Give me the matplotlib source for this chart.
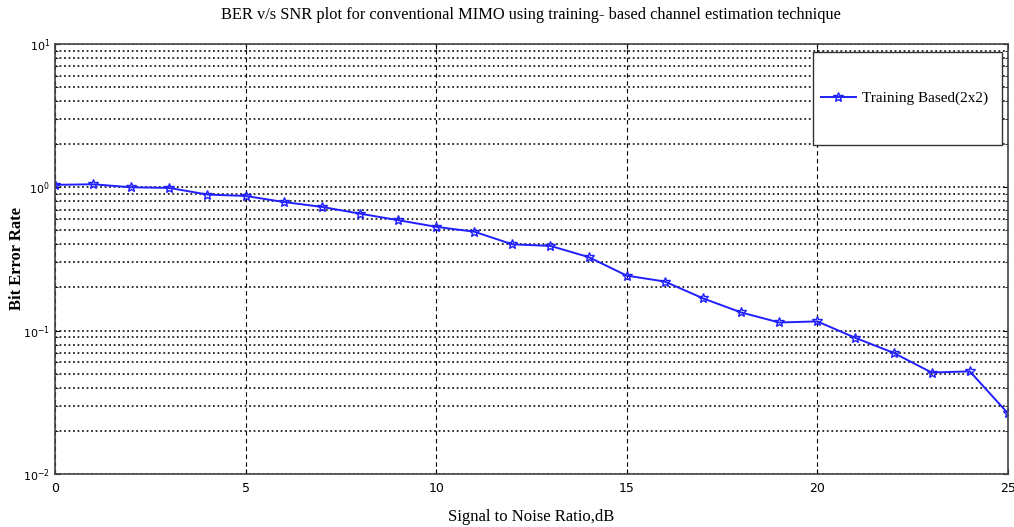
import numpy as np
import matplotlib
matplotlib.use('Agg')
import matplotlib.pyplot as plt
from matplotlib.patches import Rectangle
from matplotlib.ticker import LogLocator, NullFormatter

# SNR points (dB) and BER
snr_db = list(range(0, 26))
ber = [1.04, 1.05, 1.0, 0.99, 0.89, 0.87, 0.79, 0.73, 0.655, 0.59,
       0.53, 0.49, 0.40, 0.39, 0.326, 0.242, 0.22, 0.168, 0.134, 0.114,
       0.116, 0.089, 0.070, 0.051, 0.052, 0.0265]

series_label = 'Training Based(2x2)'
title_text = 'BER v/s SNR plot for conventional MIMO using training- based channel estimation technique'

fig = plt.figure(figsize=(10.14, 5.27), dpi=100)
ax = fig.add_axes([0.0542, 0.1006, 0.9398, 0.816])

ax.semilogy(snr_db, ber, color='#2020ff', lw=1.4, marker='*', ms=7,
            mfc='none', mec='#2020ff', mew=1.0, label=series_label)

ax.set_xlim(0, 25)
ax.set_ylim(1e-2, 1e1)
ax.set_xticks([0, 5, 10, 15, 20, 25])
ax.yaxis.set_major_locator(LogLocator(base=10, numticks=10))
ax.yaxis.set_minor_locator(LogLocator(base=10, subs=np.arange(2, 10), numticks=20))
ax.yaxis.set_minor_formatter(NullFormatter())

ax.grid(True, which='major', axis='x', color='black', ls=(0, (4, 3)), lw=0.8)
ax.grid(True, which='both', axis='y', color='#222222', ls=(0, (1, 1.5)), lw=1.3)

ax.tick_params(which='both', direction='in', labelsize=8, top=True, right=True)
ax.tick_params(axis='x', labelsize=9, pad=6)
for s in ax.spines.values():
    s.set_linewidth(1.2)
    s.set_color('#444444')

ax.set_title(title_text, family='Liberation Serif', fontsize=11.8, pad=18)
ax.set_xlabel('Signal to Noise Ratio,dB', family='Liberation Serif', fontsize=12, labelpad=10)
ax.set_ylabel('Bit Error Rate', family='Liberation Serif', fontsize=12, fontweight='bold')
ax.yaxis.set_label_coords(-0.031, 0.5)

# legend without frame, then a taller MATLAB-like box drawn behind it
leg = ax.legend(loc='center right', prop={'family': 'Liberation Serif', 'size': 11},
                frameon=False, borderpad=0, handlelength=2.3, handletextpad=0.4,
                borderaxespad=0, bbox_to_anchor=(0.979, 0.874))
leg.set_zorder(5)
fig.canvas.draw()
bb = leg.get_window_extent()
pad_l, pad_r, box_h = 8, 14, 93
cy = (bb.y0 + bb.y1) / 2
box = Rectangle((bb.x0 - pad_l, cy - box_h / 2), bb.width + pad_l + pad_r, box_h,
                transform=None, facecolor='white', edgecolor='#333333', lw=1.0, zorder=4)
ax.add_patch(box)
ax.set_xlim(0, 25)
ax.set_ylim(1e-2, 1e1)

fig.savefig('out.png', dpi=100)
